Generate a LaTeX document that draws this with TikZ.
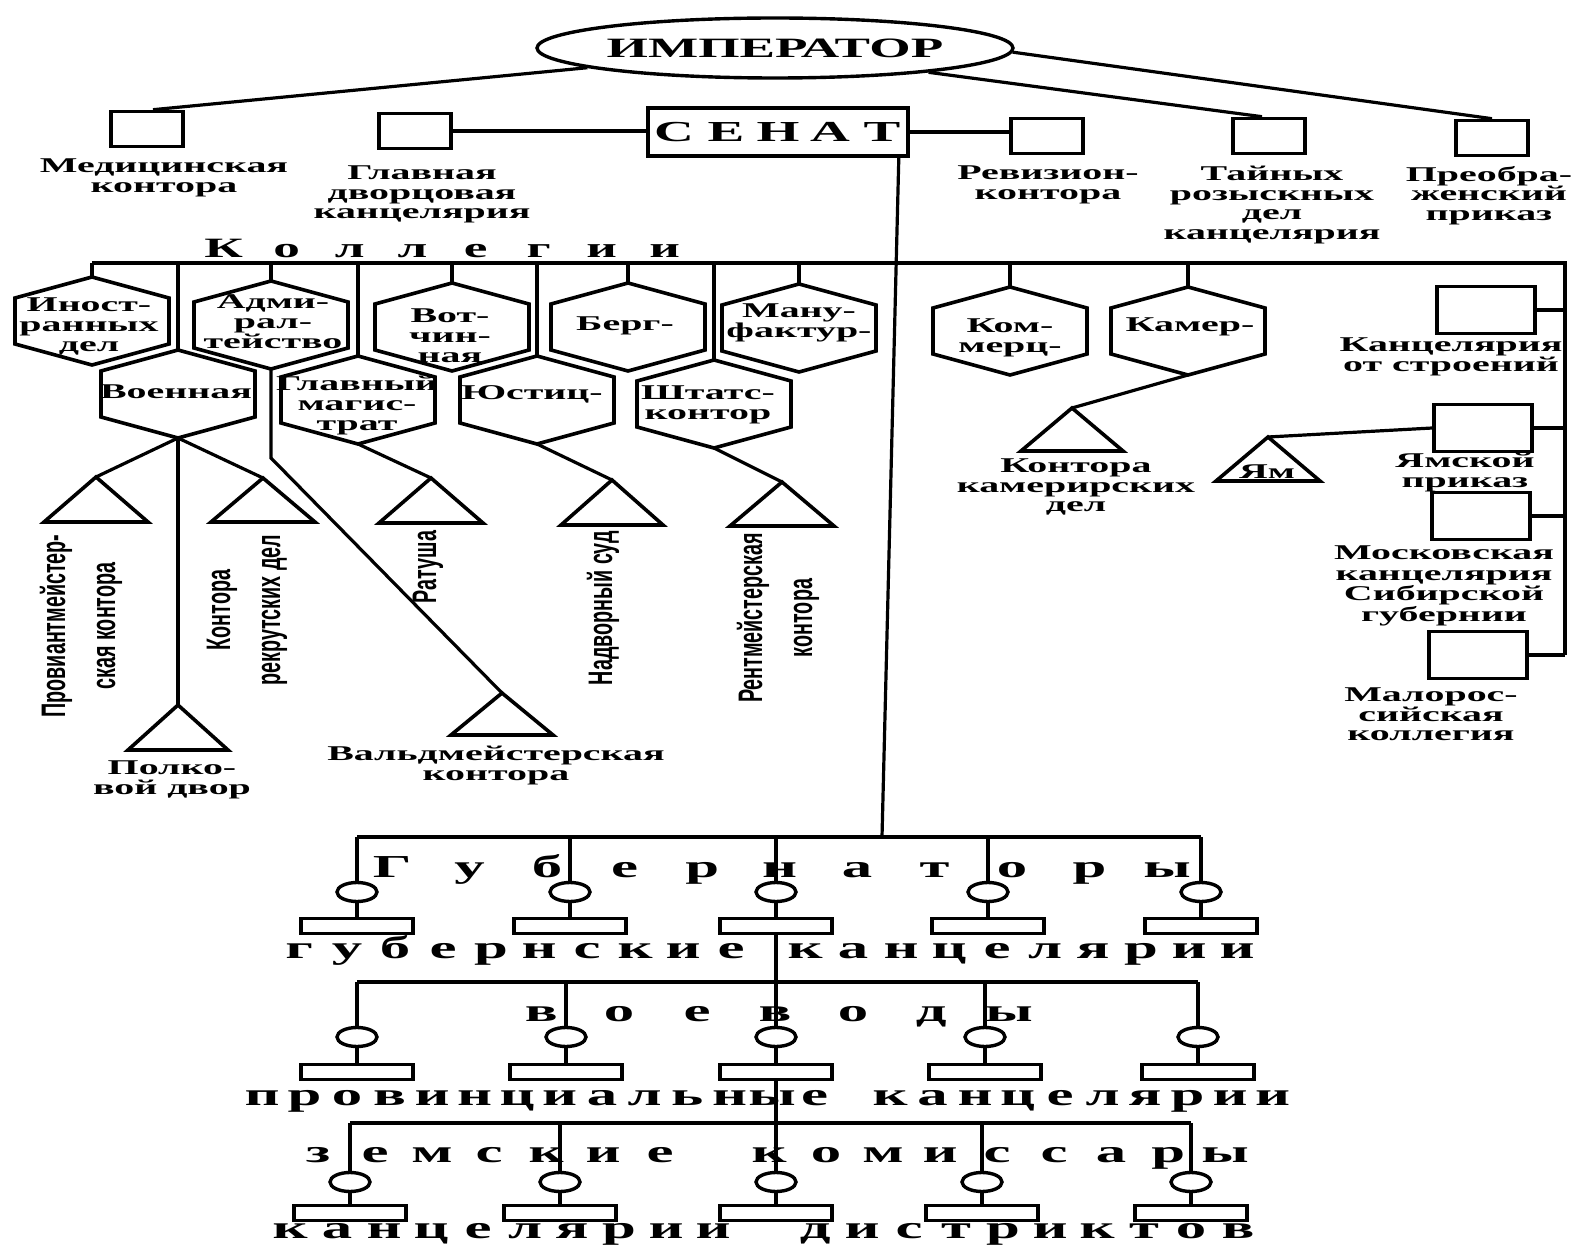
\documentclass[tikz,border=0pt]{standalone}
\usepackage{fontspec}
\setmainfont{Liberation Serif}[FakeStretch=1.9]
\newfontfamily\rotf{Liberation Sans}[FakeStretch=0.58]
\usetikzlibrary{shapes.geometric,calc}

\newlength\pitchw
\newlength\gapw
\newcommand\spacedtxt[3]{\setlength\pitchw{#1pt}\setlength\gapw{#2pt}\spacedloop#3\relax}
\def\spacedloop#1{\ifx#1\relax\else\ifx#1*\hspace{\gapw}\else\makebox[\pitchw]{#1}\fi\expandafter\spacedloop\fi}

\newcommand\hexa[3]{%
  \draw[shp] ({#2},{#3-44}) -- ({#2+77},{#3-23}) -- ({#2+77},{#3+23}) -- ({#2},{#3+44}) -- ({#2-77},{#3+23}) -- ({#2-77},{#3-23}) -- cycle;
  \coordinate (#1-t) at ({#2},{#3-44});
  \coordinate (#1-b) at ({#2},{#3+44});
}
\newcommand\tri[5]{%
  \draw[shp] ({#2},{#3}) -- ({#2+#4},{#3+#5}) -- ({#2-#4},{#3+#5}) -- cycle;
  \coordinate (#1) at ({#2},{#3});
}

\tikzset{
  ln/.style={line width=3.2pt},
  shp/.style={line width=3.6pt, line join=miter},
  bx/.style={draw, line width=3.6pt, minimum width=72pt, minimum height=35pt, inner sep=0pt},
  rbx/.style={draw, line width=3.6pt, minimum width=98pt, minimum height=47pt, inner sep=0pt},
  lbl/.style={font=\bfseries\fontsize{21}{19.5}\selectfont, align=center, inner sep=0pt, anchor=north},
  htxt/.style={font=\bfseries\fontsize{21}{20}\selectfont, align=center, inner sep=0pt, anchor=north},
  rtxt/.style={font=\rotf\bfseries\fontsize{34}{50}\selectfont, align=center, rotate=90, inner sep=0pt},
  spt/.style={inner sep=0pt, anchor=base west, font=\bfseries\fontsize{32}{32}\selectfont},
  circ/.style={draw, ellipse, line width=3.4pt, minimum width=40pt, minimum height=19pt, inner sep=0pt},
  rbox/.style={draw, line width=3.4pt, minimum width=112pt, minimum height=15pt, inner sep=0pt},
}

\begin{document}
\begin{tikzpicture}[x=1pt,y=-1pt]
\fill[white] (0,0) rectangle (1585,1246);
\useasboundingbox (0,0) rectangle (1585,1246);

% ---------- top level ----------
\node[draw, ellipse, line width=3.4pt, minimum width=382pt, minimum height=60pt, inner sep=0pt,
      font=\bfseries\fontsize{28}{28}\selectfont] (emp) at (775,48) {ИМПЕРАТОР};
\node[bx] (med) at (147,129) {};
\node[bx] (glavdv) at (415,131) {};
\node[draw, line width=3.6pt, minimum width=258pt, minimum height=48pt, inner sep=0pt,
      font=\bfseries\fontsize{29}{29}\selectfont] (senat) at (778,132) {\spacedtxt{52}{0}{СЕНАТ}};
\node[bx] (reviz) at (1047,136) {};
\node[bx] (tain) at (1269,136) {};
\node[bx] (preob) at (1492,138) {};

\node[lbl] (medl) at (164,159) {Медицинская\\контора};
\node[lbl] (glavdvl) at (422,166) {Главная\\дворцовая\\канцелярия};
\node[lbl] (revizl) at (1048,166) {Ревизион-\\контора};
\node[lbl] (tainl) at (1272,166) {Тайных\\розыскных\\дел\\канцелярия};
\node[lbl] (preobl) at (1489,166) {Преобра-\\женский\\приказ};

\draw[ln] (emp.186) -- ([xshift=6pt]med.north);
\draw[ln] (emp.-1) -- (preob.north);
\draw[ln] (emp.-9) -- ([xshift=-7pt]tain.north);
\draw[ln] (glavdv.east) -- (senat.west |- glavdv.east);
\draw[ln] (senat.east) -- (reviz.west |- senat.east);

% senate vertical
\coordinate (sv) at (882,837);
\draw[ln] ([xshift=-11pt]senat.south east) -- (sv);

% ---------- collegia ----------
\coordinate (kb0) at (92,263);
\coordinate (kb1) at (1565,263);
\coordinate (kb2) at (1565,655);
\draw[ln] (kb0) -- (kb1) -- (kb2);
\node[spt, font=\bfseries\fontsize{28}{28}\selectfont] (kol) at (192,258) {\spacedtxt{63}{0}{Коллегии}};

\hexa{inos}{92}{321}
\hexa{admir}{271}{325}
\hexa{votch}{452}{327}
\hexa{berg}{628}{327}
\hexa{manuf}{799}{328}
\hexa{komm}{1010}{331}
\hexa{kamer}{1188}{331}
\hexa{voen}{178}{394}
\hexa{glav}{358}{400}
\hexa{just}{537}{400}
\hexa{shtat}{714}{404}

\foreach \h in {inos,admir,votch,berg,manuf,komm,kamer,voen,glav,just,shtat}
  \draw[ln] (\h-t |- kb0) -- (\h-t);

\node[htxt] (inosl) at (89,298) {Иност-\\ранных\\дел};
\node[htxt] (admirl) at (273,294) {Адми-\\рал-\\тейство};
\node[htxt] (votchl) at (450,309) {Вот-\\чин-\\ная};
\node[htxt] (bergl) at (625,317) {Берг-};
\node[htxt] (manufl) at (799,304) {Ману-\\фактур-};
\node[htxt] (voenl) at (176,385) {Военная};
\node[htxt] (glavl) at (357,376) {Главный\\магис-\\трат};
\node[htxt] (justl) at (532,385) {Юстиц-};
\node[htxt] (shtatl) at (708,386) {Штатс-\\контор};
\node[htxt] (komml) at (1010,319) {Ком-\\мерц-};
\node[htxt] (kamerl) at (1190,318) {Камер-};

% triangles
\tri{tprov}{96}{477}{52}{45}
\tri{trekr}{263}{478}{52}{44}
\tri{tpolk}{178}{705}{50}{45}
\tri{tvald}{502}{693}{51}{42}
\tri{trat}{431}{478}{52}{45}
\tri{tnadv}{612}{480}{51}{45}
\tri{trent}{782}{482}{52}{44}
\tri{tkamer}{1072}{408}{51}{43}
\tri{tyam}{1268}{437}{52}{44}

\draw[ln] (voen-b) -- (tprov);
\draw[ln] (voen-b) -- (tpolk);
\draw[ln] (voen-b) -- (trekr);
\coordinate (abend) at (271,458);
\draw[ln] (admir-b) -- (abend) -- (tvald);
\draw[ln] (glav-b) -- (trat);
\draw[ln] (just-b) -- (tnadv);
\draw[ln] (shtat-b) -- (trent);
\draw[ln] (kamer-b) -- (tkamer);

\node[rtxt] (provl) at (81,626) {Провиантмейстер-\\ская контора};
\node[rtxt] (rekrl) at (247,610) {Контора\\рекрутских дел};
\node[rtxt] (ratl) at (428,567) {Ратуша};
\node[rtxt] (nadvl) at (603,608) {Надворный суд};
\node[rtxt] (rentl) at (778,618) {Рентмейстерская\\контора};

\node[lbl] (polkl) at (172,761) {Полко-\\вой двор};
\node[lbl] (valdl) at (496,746) {Вальдмейстерская\\контора};
\node[lbl] (kamerdl) at (1076,459) {Контора\\камерирских\\дел};
\node[font=\bfseries\fontsize{21}{21}\selectfont, inner sep=0pt, anchor=base] (yaml) at (1267,478) {Ям};

% right column
\node[rbx] (stroen) at (1486,310) {};
\node[rbx] (yamb) at (1483,428) {};
\node[rbx] (mosk) at (1481,516) {};
\node[rbx] (malor) at (1478,655) {};
\foreach \b in {stroen,yamb,mosk,malor}
  \draw[ln] (\b.east) -- (\b.east -| kb1);
\draw[ln] (yamb.west) -- (tyam);

\node[lbl] (stroenl) at (1451,338) {Канцелярия\\от строений};
\node[lbl] (yambl) at (1465,453) {Ямской\\приказ};
\node[lbl, font=\bfseries\fontsize{21}{20.5}\selectfont] (moskl) at (1444,546) {Московская\\канцелярия\\Сибирской\\губернии};
\node[lbl] (malorl) at (1431,688) {Малорос-\\сийская\\коллегия};

% ---------- provinces ----------
\coordinate (b1l) at (357,837);
\coordinate (b1r) at (1201,837);
\coordinate (b2l) at (357,982);
\coordinate (b2r) at (1198,982);
\coordinate (b3l) at (350,1123);
\coordinate (b3r) at (1191,1123);
\draw[ln] (b1l) -- (b1r);
\draw[ln] (b2l) -- (b2r);
\draw[ln] (b3l) -- (b3r);

\foreach \x [count=\i] in {357,570,776,988,1201} {
  \node[circ] (c1\i) at (\x,892) {};
  \node[rbox] (r1\i) at (\x,926) {};
  \draw[ln] (c1\i.north |- b1l) -- (c1\i.north);
  \draw[ln] (c1\i.south) -- (r1\i.north);
}
\foreach \x [count=\i] in {357,566,776,985,1198} {
  \node[circ] (c2\i) at (\x,1037) {};
  \node[rbox] (r2\i) at (\x,1072) {};
  \draw[ln] (c2\i.north |- b2l) -- (c2\i.north);
  \draw[ln] (c2\i.south) -- (r2\i.north);
}
\foreach \x [count=\i] in {350,560,776,982,1191} {
  \node[circ] (c3\i) at (\x,1182) {};
  \node[rbox] (r3\i) at (\x,1213) {};
  \draw[ln] (c3\i.north |- b3l) -- (c3\i.north);
  \draw[ln] (c3\i.south) -- (r3\i.north);
}
\draw[ln] (r13.south) -- (r13.south |- b2l);
\draw[ln] (r23.south) -- (r23.south |- b3l);

\node[spt] (gubt) at (353.25,877) {\spacedtxt{77.5}{0}{Губернаторы}};
\node[spt] (gubk) at (275,958) {\spacedtxt{48}{26}{губернские*канцелярии}};
\node[spt] (voevt) at (502,1021) {\spacedtxt{78}{0}{воеводы}};
\node[spt] (provk) at (240.75,1105) {\spacedtxt{42.5}{33}{провинциальные*канцелярии}};
\node[spt] (zemt) at (289.5,1162) {\spacedtxt{57}{52}{земские*комиссары}};
\node[spt] (distk) at (266.5,1238) {\spacedtxt{47}{55}{канцелярии*дистриктов}};

\end{tikzpicture}
\end{document}
